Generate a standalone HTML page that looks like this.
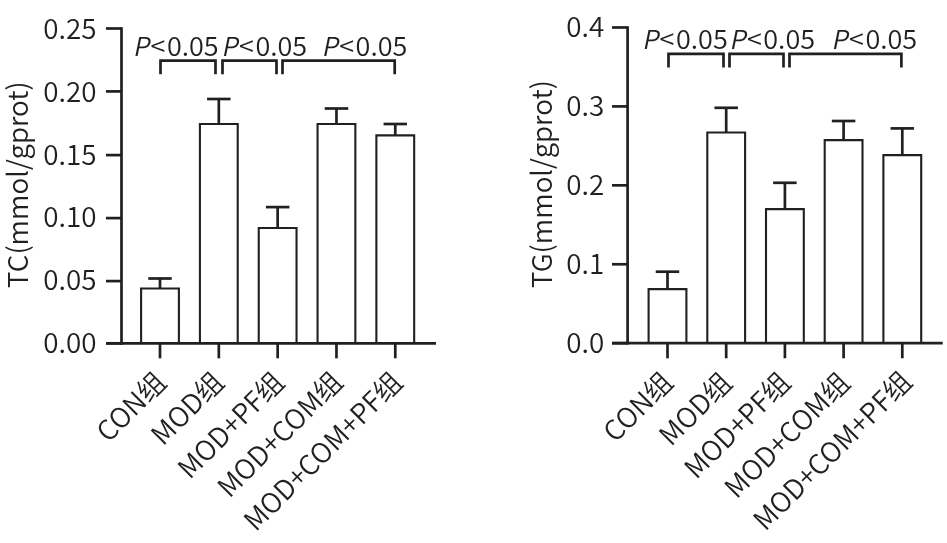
<!DOCTYPE html>
<html><head><meta charset="utf-8"><style>
html,body{margin:0;padding:0;background:#fff;width:947px;height:543px;overflow:hidden}
svg{display:block;will-change:transform}
text{font-family:'Noto Sans CJK SC DemiLight','Noto Sans CJK SC','Liberation Sans',sans-serif;fill:#231f20;stroke:none}
.t{font-size:27.8px}
.p{font-size:27px}
.pp{font-size:26px}
.yt{font-size:27.7px}
.xl{font-size:27.5px}
</style></head><body>
<svg width="947" height="543" viewBox="0 0 947 543">
<g stroke="#231f20" stroke-linecap="butt">
<line x1="121.50" y1="27.15" x2="121.50" y2="344.65" stroke-width="2.7"/>
<line x1="106.00" y1="343.30" x2="121.50" y2="343.30" stroke-width="2.7"/>
<line x1="106.00" y1="281.10" x2="121.50" y2="281.10" stroke-width="2.7"/>
<line x1="106.00" y1="218.10" x2="121.50" y2="218.10" stroke-width="2.7"/>
<line x1="106.00" y1="155.10" x2="121.50" y2="155.10" stroke-width="2.7"/>
<line x1="106.00" y1="91.40" x2="121.50" y2="91.40" stroke-width="2.7"/>
<line x1="106.00" y1="28.50" x2="121.50" y2="28.50" stroke-width="2.7"/>
<text x="96.6" y="352.80" text-anchor="end" class="t">0.00</text>
<text x="96.6" y="289.85" text-anchor="end" class="t">0.05</text>
<text x="96.6" y="226.80" text-anchor="end" class="t">0.10</text>
<text x="96.6" y="164.80" text-anchor="end" class="t">0.15</text>
<text x="96.6" y="101.80" text-anchor="end" class="t">0.20</text>
<text x="96.6" y="38.80" text-anchor="end" class="t">0.25</text>
<line x1="106.00" y1="343.30" x2="436.00" y2="343.30" stroke-width="2.7"/>
<line x1="160.00" y1="343.30" x2="160.00" y2="358.30" stroke-width="2.7"/>
<line x1="160.00" y1="288.50" x2="160.00" y2="278.50" stroke-width="2.7"/>
<line x1="148.25" y1="278.50" x2="171.75" y2="278.50" stroke-width="2.7"/>
<path d="M141.10 343.30V288.50H178.90V343.30" stroke-width="2.1" fill="none"/>
<line x1="218.82" y1="343.30" x2="218.82" y2="358.30" stroke-width="2.7"/>
<line x1="218.82" y1="124.00" x2="218.82" y2="99.00" stroke-width="2.7"/>
<line x1="207.07" y1="99.00" x2="230.57" y2="99.00" stroke-width="2.7"/>
<path d="M199.92 343.30V124.00H237.72V343.30" stroke-width="2.1" fill="none"/>
<line x1="277.64" y1="343.30" x2="277.64" y2="358.30" stroke-width="2.7"/>
<line x1="277.64" y1="228.00" x2="277.64" y2="207.10" stroke-width="2.7"/>
<line x1="265.89" y1="207.10" x2="289.39" y2="207.10" stroke-width="2.7"/>
<path d="M258.74 343.30V228.00H296.54V343.30" stroke-width="2.1" fill="none"/>
<line x1="336.46" y1="343.30" x2="336.46" y2="358.30" stroke-width="2.7"/>
<line x1="336.46" y1="124.00" x2="336.46" y2="108.50" stroke-width="2.7"/>
<line x1="324.71" y1="108.50" x2="348.21" y2="108.50" stroke-width="2.7"/>
<path d="M317.56 343.30V124.00H355.36V343.30" stroke-width="2.1" fill="none"/>
<line x1="395.28" y1="343.30" x2="395.28" y2="358.30" stroke-width="2.7"/>
<line x1="395.28" y1="135.40" x2="395.28" y2="124.00" stroke-width="2.7"/>
<line x1="383.53" y1="124.00" x2="407.03" y2="124.00" stroke-width="2.7"/>
<path d="M376.38 343.30V135.40H414.18V343.30" stroke-width="2.1" fill="none"/>
<path d="M160.50 74.20V60.70H215.50V74.20" stroke-width="2.7" fill="none"/>
<path d="M222.50 74.20V60.70H276.50V74.20" stroke-width="2.7" fill="none"/>
<path d="M282.50 74.20V60.70H394.70V74.20" stroke-width="2.7" fill="none"/>
<text transform="translate(132.80,55.70) skewX(-11.5)" class="pp">P</text>
<text x="150.50" y="55.70" class="p">&lt;</text>
<text x="166.90" y="55.70" class="p">0.05</text>
<text transform="translate(221.30,55.70) skewX(-11.5)" class="pp">P</text>
<text x="239.00" y="55.70" class="p">&lt;</text>
<text x="255.40" y="55.70" class="p">0.05</text>
<text transform="translate(321.50,55.70) skewX(-11.5)" class="pp">P</text>
<text x="339.20" y="55.70" class="p">&lt;</text>
<text x="355.60" y="55.70" class="p">0.05</text>
<text transform="translate(27.70,184.60) rotate(-90)" text-anchor="middle" class="yt">TC(mmol/gprot)</text>
<text transform="translate(167.90,384.00) rotate(-45)" text-anchor="end" class="xl">CON组</text>
<text transform="translate(225.82,384.00) rotate(-45)" text-anchor="end" class="xl">MOD组</text>
<text transform="translate(285.94,384.00) rotate(-45)" text-anchor="end" class="xl">MOD+PF组</text>
<text transform="translate(344.46,383.80) rotate(-45)" text-anchor="end" class="xl">MOD+COM组</text>
<text transform="translate(404.18,384.00) rotate(-45)" text-anchor="end" class="xl">MOD+COM+PF组</text>
<line x1="627.60" y1="26.15" x2="627.60" y2="344.55" stroke-width="2.7"/>
<line x1="612.00" y1="343.20" x2="627.60" y2="343.20" stroke-width="2.7"/>
<line x1="612.00" y1="264.27" x2="627.60" y2="264.27" stroke-width="2.7"/>
<line x1="612.00" y1="185.34" x2="627.60" y2="185.34" stroke-width="2.7"/>
<line x1="612.00" y1="106.41" x2="627.60" y2="106.41" stroke-width="2.7"/>
<line x1="612.00" y1="27.48" x2="627.60" y2="27.48" stroke-width="2.7"/>
<text x="604.2" y="352.70" text-anchor="end" class="t">0.0</text>
<text x="604.2" y="273.70" text-anchor="end" class="t">0.1</text>
<text x="604.2" y="194.70" text-anchor="end" class="t">0.2</text>
<text x="604.2" y="115.70" text-anchor="end" class="t">0.3</text>
<text x="604.2" y="36.90" text-anchor="end" class="t">0.4</text>
<line x1="612.00" y1="343.20" x2="942.70" y2="343.20" stroke-width="2.7"/>
<line x1="667.50" y1="343.20" x2="667.50" y2="358.30" stroke-width="2.7"/>
<line x1="667.50" y1="289.10" x2="667.50" y2="271.70" stroke-width="2.7"/>
<line x1="655.75" y1="271.70" x2="679.25" y2="271.70" stroke-width="2.7"/>
<path d="M648.60 343.20V289.10H686.40V343.20" stroke-width="2.1" fill="none"/>
<line x1="726.20" y1="343.20" x2="726.20" y2="358.30" stroke-width="2.7"/>
<line x1="726.20" y1="132.50" x2="726.20" y2="107.80" stroke-width="2.7"/>
<line x1="714.45" y1="107.80" x2="737.95" y2="107.80" stroke-width="2.7"/>
<path d="M707.30 343.20V132.50H745.10V343.20" stroke-width="2.1" fill="none"/>
<line x1="784.90" y1="343.20" x2="784.90" y2="358.30" stroke-width="2.7"/>
<line x1="784.90" y1="209.10" x2="784.90" y2="182.80" stroke-width="2.7"/>
<line x1="773.15" y1="182.80" x2="796.65" y2="182.80" stroke-width="2.7"/>
<path d="M766.00 343.20V209.10H803.80V343.20" stroke-width="2.1" fill="none"/>
<line x1="843.60" y1="343.20" x2="843.60" y2="358.30" stroke-width="2.7"/>
<line x1="843.60" y1="140.10" x2="843.60" y2="121.00" stroke-width="2.7"/>
<line x1="831.85" y1="121.00" x2="855.35" y2="121.00" stroke-width="2.7"/>
<path d="M824.70 343.20V140.10H862.50V343.20" stroke-width="2.1" fill="none"/>
<line x1="902.30" y1="343.20" x2="902.30" y2="358.30" stroke-width="2.7"/>
<line x1="902.30" y1="155.10" x2="902.30" y2="128.40" stroke-width="2.7"/>
<line x1="890.55" y1="128.40" x2="914.05" y2="128.40" stroke-width="2.7"/>
<path d="M883.40 343.20V155.10H921.20V343.20" stroke-width="2.1" fill="none"/>
<path d="M668.50 67.60V53.80H723.50V67.60" stroke-width="2.7" fill="none"/>
<path d="M729.50 67.60V53.80H783.50V67.60" stroke-width="2.7" fill="none"/>
<path d="M789.50 67.60V53.80H901.40V67.60" stroke-width="2.7" fill="none"/>
<text transform="translate(641.90,48.50) skewX(-11.5)" class="pp">P</text>
<text x="659.60" y="48.50" class="p">&lt;</text>
<text x="676.00" y="48.50" class="p">0.05</text>
<text transform="translate(729.20,48.50) skewX(-11.5)" class="pp">P</text>
<text x="746.90" y="48.50" class="p">&lt;</text>
<text x="763.30" y="48.50" class="p">0.05</text>
<text transform="translate(831.30,48.50) skewX(-11.5)" class="pp">P</text>
<text x="849.00" y="48.50" class="p">&lt;</text>
<text x="865.40" y="48.50" class="p">0.05</text>
<text transform="translate(552.00,184.10) rotate(-90)" text-anchor="middle" class="yt">TG(mmol/gprot)</text>
<text transform="translate(674.80,384.00) rotate(-45)" text-anchor="end" class="xl">CON组</text>
<text transform="translate(733.70,384.60) rotate(-45)" text-anchor="end" class="xl">MOD组</text>
<text transform="translate(792.30,384.20) rotate(-45)" text-anchor="end" class="xl">MOD+PF组</text>
<text transform="translate(851.60,384.60) rotate(-45)" text-anchor="end" class="xl">MOD+COM组</text>
<text transform="translate(913.70,383.40) rotate(-45)" text-anchor="end" class="xl">MOD+COM+PF组</text>
</g></svg></body></html>
